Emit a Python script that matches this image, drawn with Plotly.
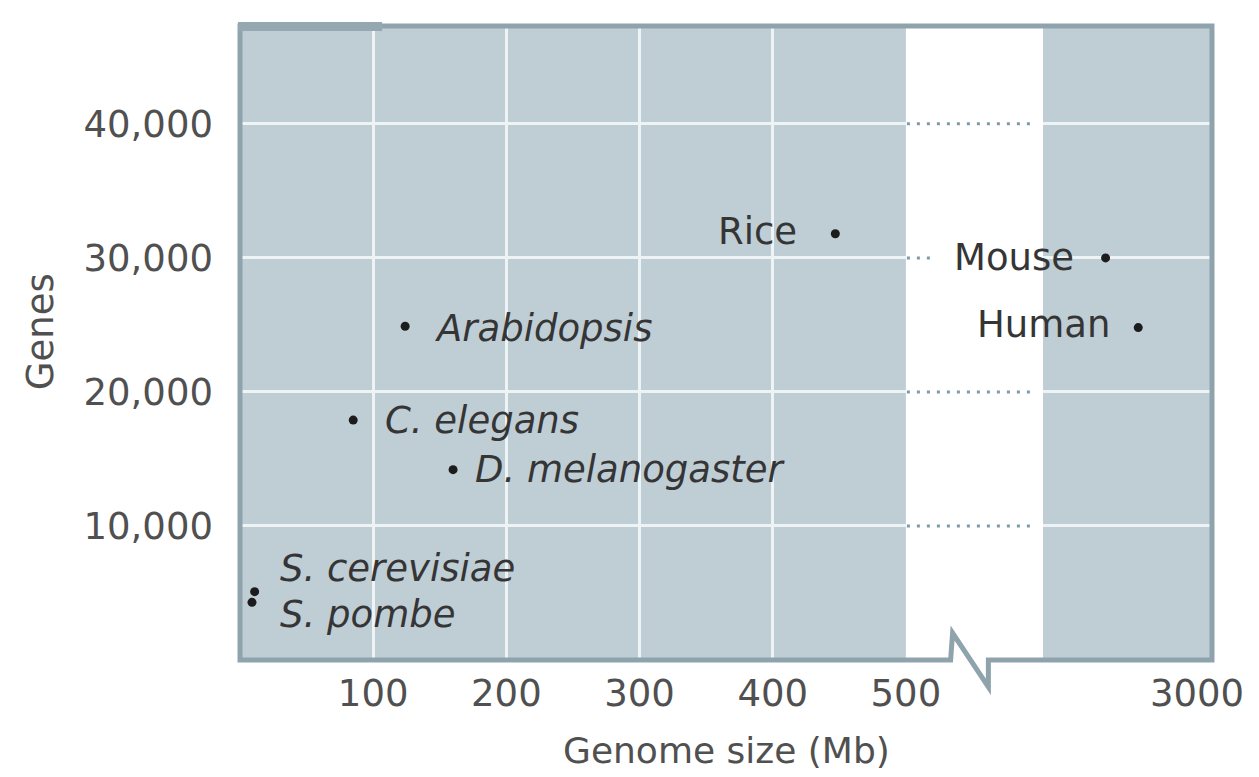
import plotly.graph_objects as go

# ---------------- data ----------------
species_left = ["S. cerevisiae", "S. pombe", "C. elegans", "Arabidopsis", "D. melanogaster", "Rice"]
genome_left = [11, 9, 85, 124, 160, 447]            # Mb
genes_left = [5100, 4300, 17900, 24900, 14200, 31800]

species_right = ["Mouse", "Human"]
genome_right = [2510, 2685]                          # Mb (broken-axis panel)
genes_right = [30000, 24800]

x_ticks_left = [100, 200, 300, 400, 500]
x_ticks_right = [3000]
y_ticks = [10000, 20000, 30000, 40000]

x_title = "Genome size (Mb)"
y_title = "Genes"

# ---------------- styling ----------------
FONT = "DejaVu Sans"
BG = "#bfcdd5"
GRID = "#eef3f6"
FRAME = "#8fa3ad"
DOT = "#1c1c1c"
TICK_COL = "#505050"
LABEL_COL = "#353535"

italic_names = {"S. cerevisiae", "S. pombe", "C. elegans", "Arabidopsis", "D. melanogaster"}
# label placement relative to each dot: (xanchor, xshift, yshift)
label_place = {
    "S. cerevisiae": ("left", 23, 23),
    "S. pombe": ("left", 26, -12),
    "C. elegans": ("left", 30, 0),
    "Arabidopsis": ("left", 28, -2),
    "D. melanogaster": ("left", 20, 0),
    "Rice": ("right", -36, 2),
    "Mouse": ("right", -30, 0),
    "Human": ("right", -26, 3),
}

W, H = 1259, 777
L, R, T, B = 240, 1218, 26, 660


def px(xp):
    return (xp - L) / (R - L)


def py(yp):
    return (B - yp) / (B - T)


fig = go.Figure()
fig.add_trace(go.Scatter(x=genome_left, y=genes_left, mode="markers",
                         marker=dict(size=9, color=DOT), xaxis="x", yaxis="y",
                         cliponaxis=False, hoverinfo="skip", showlegend=False))
fig.add_trace(go.Scatter(x=genome_right, y=genes_right, mode="markers",
                         marker=dict(size=9, color=DOT), xaxis="x2", yaxis="y2",
                         cliponaxis=False, hoverinfo="skip", showlegend=False))

annotations = []
for names, xs, ys, xr, yr in [(species_left, genome_left, genes_left, "x", "y"),
                              (species_right, genome_right, genes_right, "x2", "y2")]:
    for n, xv, yv in zip(names, xs, ys):
        anchor, xs_, ys_ = label_place[n]
        annotations.append(dict(
            x=xv, y=yv, xref=xr, yref=yr, text=n, showarrow=False,
            xanchor=anchor, yanchor="middle", xshift=xs_, yshift=ys_,
            font=dict(family=FONT, size=37, color=LABEL_COL,
                      style="italic" if n in italic_names else "normal")))

annotations.append(dict(x=px(729), y=py(750), xref="paper", yref="paper", text=x_title,
                        showarrow=False, xanchor="center", yanchor="middle",
                        font=dict(family=FONT, size=36, color=TICK_COL)))
annotations.append(dict(x=px(39), y=py(332), xref="paper", yref="paper", text=y_title,
                        showarrow=False, xanchor="center", yanchor="middle", textangle=-90,
                        font=dict(family=FONT, size=37, color=TICK_COL)))

shapes = []
# dotted continuation of the grid lines across the axis break
mouse_genes = genes_right[species_right.index("Mouse")]
for v in y_ticks:
    x_end = 940 if v == mouse_genes else 1038
    shapes.append(dict(type="line", xref="paper", yref="y", x0=px(911), x1=px(x_end), y0=v, y1=v,
                       line=dict(color="#7f9aaa", width=3, dash="3px,7px")))
# frame with zig-zag break mark
pts = [(L, T), (R, T), (R, B), (993, B), (993, 687), (957, 633), (955, B), (L, B)]
path = "M " + " L ".join(f"{px(a):.5f},{py(b):.5f}" for a, b in pts) + " Z"
shapes.append(dict(type="path", xref="paper", yref="paper", path=path,
                   line=dict(color=FRAME, width=5), fillcolor="rgba(0,0,0,0)"))
# darker tab at top-left
shapes.append(dict(type="rect", xref="paper", yref="paper", x0=px(L - 2), x1=px(383),
                   y0=py(31), y1=py(22), line=dict(width=0), fillcolor="#95a8b2"))

tickfont = dict(family=FONT, size=37, color=TICK_COL)
common_x = dict(showline=False, zeroline=False, ticks="", tickfont=tickfont,
                ticklabelstandoff=8, fixedrange=True)

fig.update_layout(
    width=W, height=H,
    margin=dict(l=L, r=W - R, t=T, b=H - B, pad=0),
    paper_bgcolor="white", plot_bgcolor=BG,
    showlegend=False,
    xaxis=dict(domain=[0, px(910)], range=[0, 500], tickvals=x_ticks_left,
               showgrid=True, gridcolor=GRID, gridwidth=3, anchor="y", **common_x),
    xaxis2=dict(domain=[px(1048), 1], range=[2175, 3080], tickvals=x_ticks_right,
                showgrid=False, anchor="y2", **common_x),
    yaxis=dict(domain=[0, 1], range=[0, 47300], tickvals=y_ticks, tickformat=",",
               showgrid=True, gridcolor=GRID, gridwidth=3, zeroline=False, showline=False,
               ticks="", ticklabelstandoff=26, tickfont=tickfont, anchor="x", fixedrange=True),
    yaxis2=dict(domain=[0, 1], matches="y", range=[0, 47300], tickvals=y_ticks,
                showticklabels=False, showgrid=True, gridcolor=GRID, gridwidth=3,
                zeroline=False, showline=False, ticks="", anchor="x2", fixedrange=True),
    annotations=annotations,
    shapes=shapes,
)

fig.write_html("out.html", config={"displayModeBar": False},
               post_script="document.body.style.margin='0';document.body.style.overflow='hidden';")
